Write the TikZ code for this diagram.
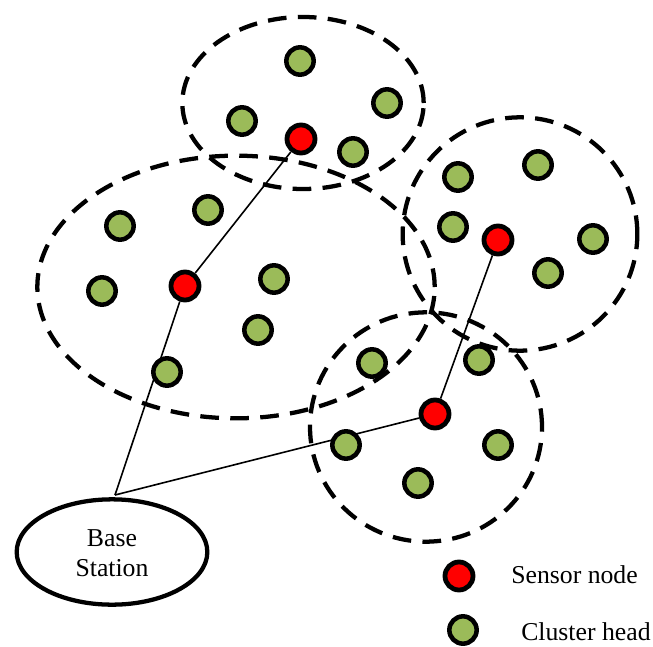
\documentclass[tikz,border=0pt]{standalone}
\usepackage{fontspec}
\setmainfont{Liberation Serif}
\usetikzlibrary{shapes.geometric}
\definecolor{grn}{HTML}{9BBB59}
\tikzset{
 px/.style={x=0.75pt,y=-0.75pt},
 cluster/.style={ellipse,draw=black,line width=3.2pt,dash pattern=on 14pt off 8.5pt,inner sep=0pt,fill=none},
 ch/.style={circle,draw=black,line width=3.4pt,fill=grn,minimum size=20.5pt,inner sep=0pt},
 sn/.style={circle,draw=black,line width=3.6pt,fill=red,minimum size=21pt,inner sep=0pt},
 link/.style={draw=black,line width=1.2pt},
 lbl/.style={font=\fontsize{19.3pt}{22.5pt}\selectfont,align=center,inner sep=0pt}
}
\begin{document}
\begin{tikzpicture}[px]
\useasboundingbox (0,0) rectangle (653,646);
\node[cluster,minimum width=181pt,minimum height=129pt] (c1) at (303,103) {};
\node[cluster,minimum width=298pt,minimum height=197pt] (c2) at (236,287) {};
\node[cluster,minimum width=176pt,minimum height=175pt] (c3) at (520,234) {};
\node[cluster,minimum width=174pt,minimum height=172pt] (c4) at (426,427) {};
\node[ellipse,draw=black,line width=3.2pt,minimum width=143pt,minimum height=79pt,inner sep=0pt] (bs) at (112,552) {};
\node[lbl] (bst) at (112,553) {Base\\Station};
\coordinate (bt) at (115,495);
\node[sn] (s1) at (301,139) {};
\node[sn] (s2) at (185,286) {};
\node[sn] (s3) at (498,240) {};
\node[sn] (s4) at (435,414) {};
\draw[link] (s1) -- (s2);
\draw[link] (s2) -- (bt);
\draw[link] (s3) -- (s4);
\draw[link] (s4) -- (bt);
\foreach \n/\x/\y in {a/300/61,b/242/121,c/387/103,d/353/152,e/120/226,f/208/210,g/102/291,h/274/279,i/258/330,j/167/372,k/458/177,l/538/165,m/453/227,o/593/239,p/548/273,q/372/363,r/479/360,t/346/445,u/498/445,v/418/483,w/463/630}
  \node[ch] (n\n) at (\x,\y) {};
\node[sn] (leg) at (459,576) {};
\node[lbl,anchor=west] (l1) at (511,575) {Sensor node};
\node[lbl,anchor=west] (l2) at (521,632) {Cluster head};
\end{tikzpicture}
\end{document}
